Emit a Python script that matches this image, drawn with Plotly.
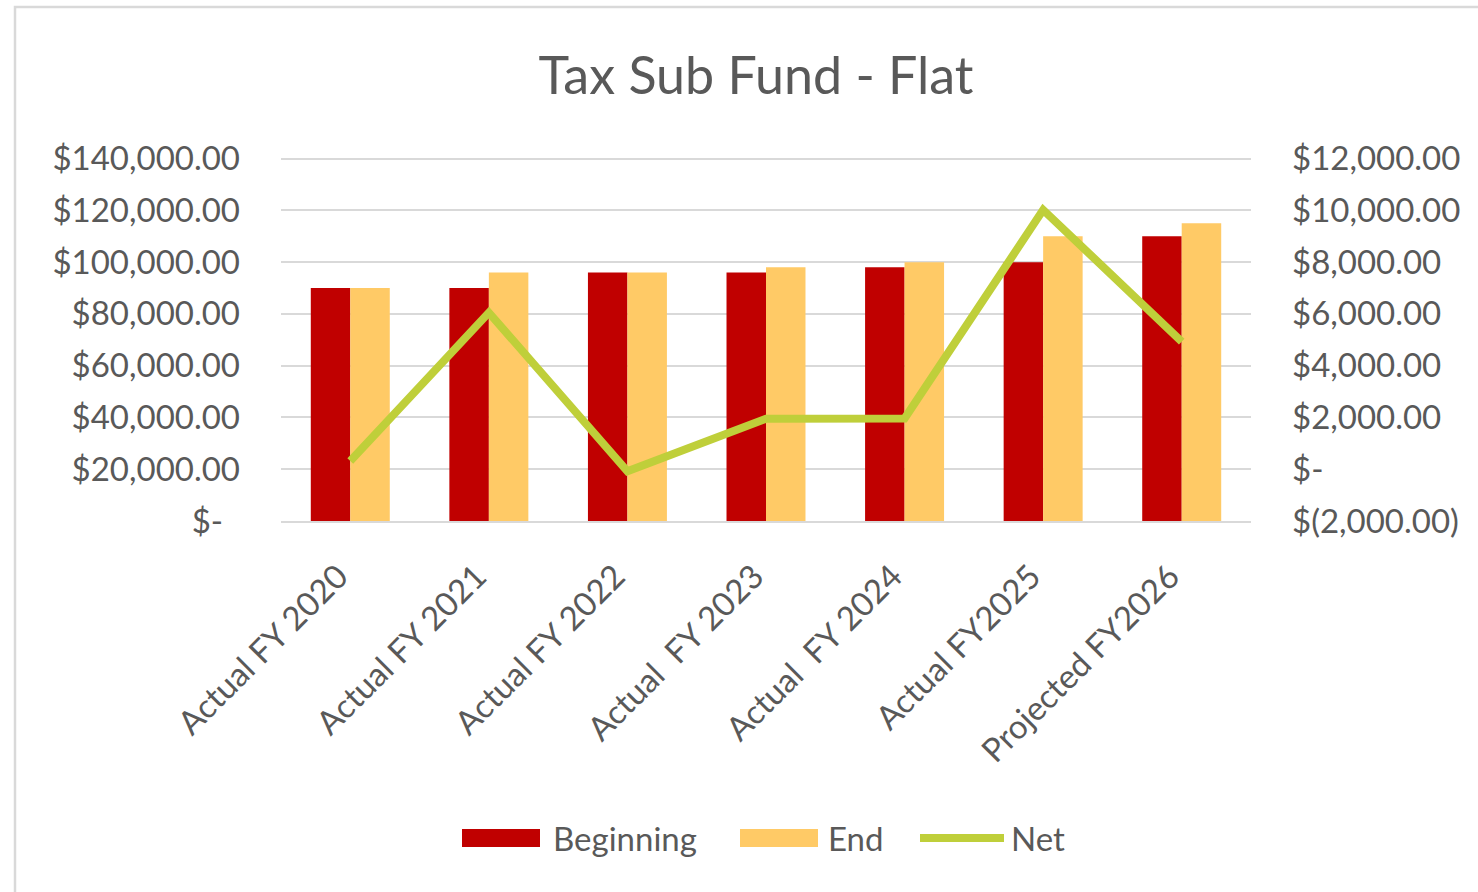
import plotly.graph_objects as go

# ---- data ----
categories = ["Actual FY 2020", "Actual FY 2021", "Actual FY 2022",
              "Actual\u00a0 FY 2023", "Actual\u00a0 FY 2024", "Actual FY2025",
              "Projected FY2026"]
beginning = [90000, 90000, 96000, 96000, 98000, 100000, 110000]
end_vals = [90000, 96000, 96000, 98000, 100000, 110000, 115000]
net = [320, 6050, -80, 1950, 1960, 10020, 4930]

left_ticks = [0, 20000, 40000, 60000, 80000, 100000, 120000, 140000]
left_labels = ["$-\u00a0\u00a0", "$20,000.00", "$40,000.00", "$60,000.00", "$80,000.00",
               "$100,000.00", "$120,000.00", "$140,000.00"]
right_ticks = [-2000, 0, 2000, 4000, 6000, 8000, 10000, 12000]
right_labels = ["$(2,000.00)", "$-", "$2,000.00", "$4,000.00", "$6,000.00",
                "$8,000.00", "$10,000.00", "$12,000.00"]

# ---- style ----
W, H = 1478, 892
L, R, T, B = 281, 227, 156, 371
FONT = "Lato"
GREY = "#595959"
GRID = "#d9d9d9"
C_BEG = "#c00000"
C_END = "#ffca66"
C_NET = "#bfcf3a"

def px(x):
    return (x - L) / (W - L - R)

def py(y):
    return (H - B - y) / (H - T - B)

fig = go.Figure()
fig.add_trace(go.Bar(x=categories, y=beginning, name="Beginning",
                     marker=dict(color=C_BEG, line=dict(width=0)), showlegend=False))
fig.add_trace(go.Bar(x=categories, y=end_vals, name="End",
                     marker=dict(color=C_END, line=dict(width=0)), showlegend=False))
fig.add_trace(go.Scatter(x=categories, y=net, name="Net", yaxis="y2", mode="lines",
                         line=dict(color=C_NET, width=8), showlegend=False))

shapes = [
    # chart border
    dict(type="rect", xref="paper", yref="paper", x0=px(15), x1=px(1500),
         y0=py(905), y1=py(7), line=dict(color=GRID, width=2.5), layer="below"),
    # legend swatches
    dict(type="rect", xref="paper", yref="paper", x0=px(462), x1=px(540),
         y0=py(847), y1=py(829), fillcolor=C_BEG, line=dict(width=0)),
    dict(type="rect", xref="paper", yref="paper", x0=px(740), x1=px(818),
         y0=py(847), y1=py(829), fillcolor=C_END, line=dict(width=0)),
    dict(type="line", xref="paper", yref="paper", x0=px(920), x1=px(1004),
         y0=py(838), y1=py(838), line=dict(color=C_NET, width=8)),
]
annotations = [
    dict(text="Beginning", xref="paper", yref="paper", x=px(551), y=py(838),
         xanchor="left", yanchor="middle", showarrow=False,
         font=dict(family=FONT, size=33, color=GREY)),
    dict(text="End", xref="paper", yref="paper", x=px(826), y=py(838),
         xanchor="left", yanchor="middle", showarrow=False,
         font=dict(family=FONT, size=33, color=GREY)),
    dict(text="Net", xref="paper", yref="paper", x=px(1009), y=py(838),
         xanchor="left", yanchor="middle", showarrow=False,
         font=dict(family=FONT, size=33, color=GREY)),
]

fig.update_layout(
    width=W, height=H,
    margin=dict(l=L, r=R, t=T, b=B, pad=0),
    paper_bgcolor="white", plot_bgcolor="white",
    barmode="group", bargap=0.43, bargroupgap=0,
    showlegend=False,
    title=dict(text="Tax Sub Fund - Flat", x=756 / W, xref="container", xanchor="center",
               y=1 - 76 / H, yref="container", yanchor="middle",
               font=dict(family=FONT, size=52, color=GREY)),
    font=dict(family=FONT, size=33, color=GREY),
    xaxis=dict(type="category", tickangle=-45, showgrid=False, zeroline=False,
               tickvals=categories, ticktext=[c + "\u00a0\u00a0" for c in categories],
               showline=True, linecolor=GRID, linewidth=2, ticks="",
               tickfont=dict(family=FONT, size=33, color=GREY), ticklabelstandoff=9),
    yaxis=dict(range=[0, 141000], tickvals=left_ticks, ticktext=left_labels,
               showgrid=True, gridcolor=GRID, gridwidth=2, zeroline=False,
               showline=False, ticks="", ticklabelstandoff=40,
               tickfont=dict(family=FONT, size=33, color=GREY)),
    yaxis2=dict(range=[-2000, 12100], tickvals=right_ticks, ticktext=right_labels,
                overlaying="y", side="right", showgrid=False, zeroline=False,
                showline=False, ticks="", ticklabelstandoff=40,
                tickfont=dict(family=FONT, size=33, color=GREY)),
    shapes=shapes, annotations=annotations,
)

fig.write_html("out.html", config={"displayModeBar": False},
               post_script="document.body.style.margin='0';document.body.style.overflow='hidden';")
